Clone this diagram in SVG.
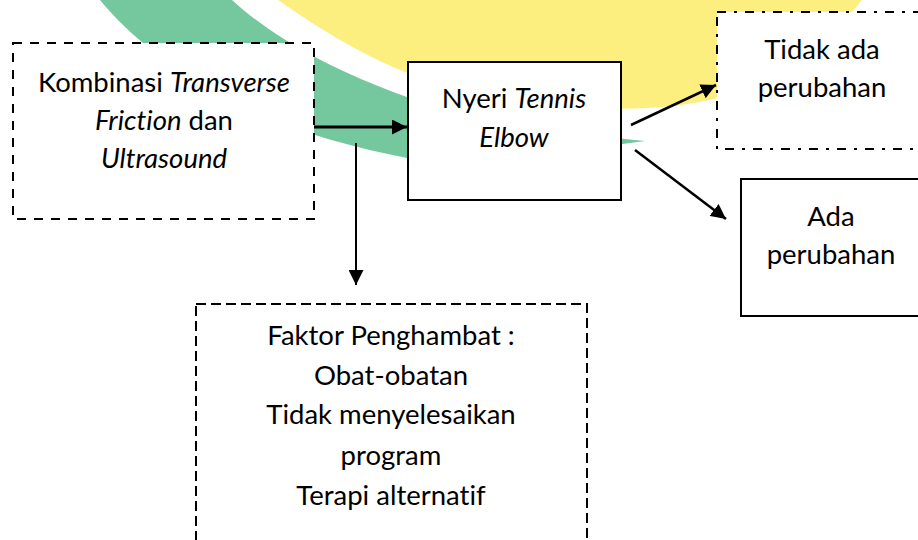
<svg xmlns="http://www.w3.org/2000/svg" width="918" height="540" viewBox="0 0 918 540">
<defs>
<style>
text{font-family:Lato,"Open Sans","Noto Sans",sans-serif;font-size:27.5px;fill:#000;text-anchor:middle;font-variant-ligatures:none}
.i{font-style:italic}
.box{fill:#fff;stroke:#000;stroke-width:2}
.conn{stroke:#000;fill:none}
</style>
<marker id="ah2" viewBox="0 0 10 10" refX="10" refY="5" markerWidth="15" markerHeight="15" markerUnits="userSpaceOnUse" orient="auto">
<path d="M0,0 L10,5 L0,10 Z" fill="#000"/>
</marker>
</defs>
<rect width="918" height="540" fill="#fff"/>
<g id="watermark">
<path d="M278,0 C335,40 400,78 470,92 C560,110 650,116 722,97 C780,80 830,40 862,0 Z" fill="#FDEE80"/>
<path d="M232,0 C270,35 330,70 407,97 C500,125 580,135 645,141 C580,150 480,162 407,158 C310,140 200,100 143,43 C125,28 110,12 100,0 Z" fill="#75C79E"/>
</g>
<g id="connectors">
<line class="conn" x1="314" y1="127" x2="407" y2="127" stroke-width="3" marker-end="url(#ah2)"/>
<line class="conn" x1="356" y1="143" x2="356" y2="285" stroke-width="2" marker-end="url(#ah2)"/>
<line class="conn" x1="631" y1="125" x2="716" y2="85" stroke-width="2.5" marker-end="url(#ah2)"/>
<line class="conn" x1="635" y1="150" x2="726" y2="219" stroke-width="2.5" marker-end="url(#ah2)"/>
</g>
<g id="kombinasi">
<rect class="box" x="13" y="43" width="301" height="176" stroke-dasharray="9,8"/>
<text x="164" y="92">Kombinasi <tspan class="i">Transverse</tspan></text>
<text x="164" y="130"><tspan class="i">Friction</tspan> dan</text>
<text x="164" y="168" class="i">Ultrasound</text>
</g>
<g id="nyeri">
<rect class="box" x="408" y="62" width="213" height="138"/>
<text x="514" y="108">Nyeri <tspan class="i">Tennis</tspan></text>
<text x="514" y="147" class="i">Elbow</text>
</g>
<g id="tidak">
<rect class="box" x="717" y="12" width="220" height="137" stroke-dasharray="9,8,3,8"/>
<text x="822" y="59">Tidak ada</text>
<text x="822" y="97">perubahan</text>
</g>
<g id="ada">
<rect class="box" x="741" y="179" width="200" height="137" stroke-width="3"/>
<text x="831" y="226">Ada</text>
<text x="831" y="264">perubahan</text>
</g>
<g id="faktor">
<rect class="box" x="196" y="304" width="391" height="260" stroke-dasharray="10,5"/>
<text x="391" y="345">Faktor Penghambat :</text>
<text x="391" y="385">Obat-obatan</text>
<text x="391" y="424">Tidak menyelesaikan</text>
<text x="391" y="465">program</text>
<text x="391" y="505">Terapi alternatif</text>
</g>
</svg>
